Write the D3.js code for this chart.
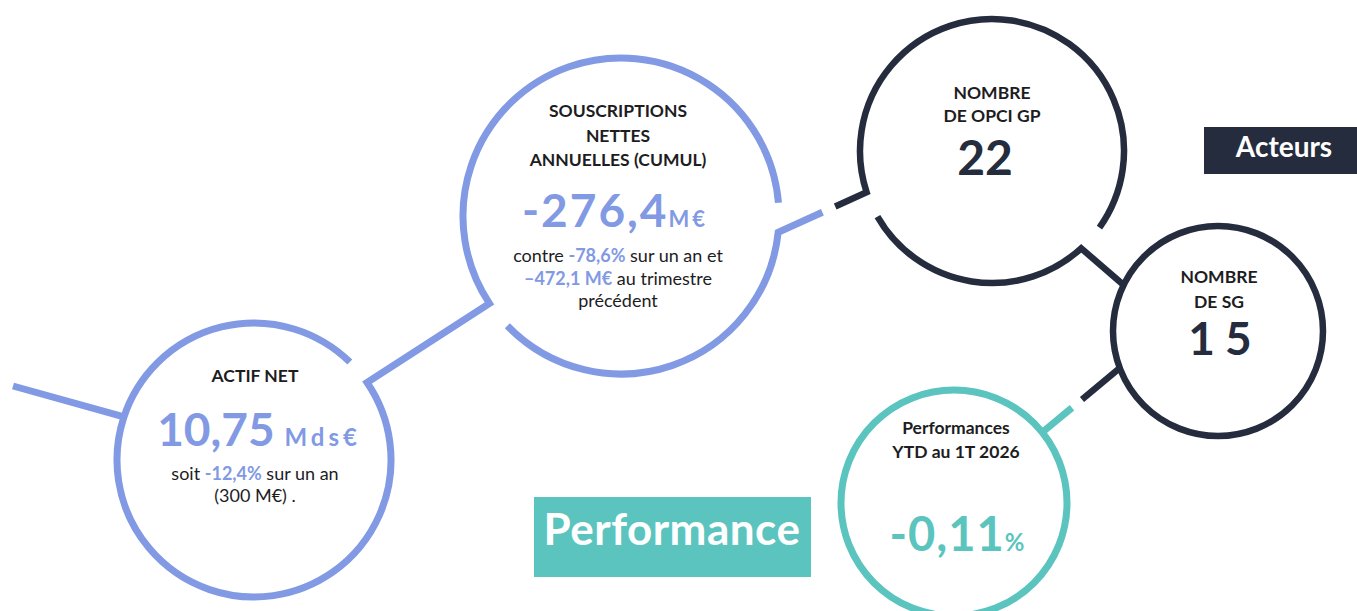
<!DOCTYPE html>
<html lang="fr">
<head>
<meta charset="UTF-8">
<title>OPCI GP</title>
<script src="https://cdn.jsdelivr.net/npm/d3@7"></script>
<style>
    body{margin:0;background:#fff;}
    svg{display:block;font-family:Lato,"Open Sans",sans-serif;}
</style>
</head>
<body>
<svg width="1357" height="611"></svg>
<script>
    // données des indicateurs
    var titres = [
        ["ACTIF NET"],
        ["SOUSCRIPTIONS", "NETTES", "ANNUELLES (CUMUL)"],
        ["NOMBRE", "DE OPCI GP"],
        ["NOMBRE", "DE SG"],
        ["Performances", "YTD au 1T 2026"]
    ];
    var valeurs = ["10,75", "-276,4", "22", "15", "-0,11"];
    var unites = [" Mds€", "M€", "", "", "%"];
    // commentaires : [texte, en évidence ?]
    var commentaires = [
        [[["soit ", 0], ["-12,4%", 1], [" sur un an", 0]], [["(300 M€) .", 0]]],
        [[["contre ", 0], ["-78,6%", 1], [" sur un an et", 0]],
         [["–472,1 M€", 1], [" au trimestre", 0]],
         [["précédent", 0]]],
        [], [], []
    ];
    var themes = ["bleu", "bleu", "sombre", "sombre", "vert"];
    var rubriques = ["Performance", "Acteurs"];

    var couleurs = {bleu: "#8299e4", sombre: "#252c3d", vert: "#5bc4bf"};
    var texteFonce = "#1d1d1f";

    // mise en page
    var cercles = [
        {cx: 254, cy: 460, r: 137, sw: 7},
        {cx: 621, cy: 216, r: 158, sw: 7},
        {cx: 992, cy: 151, r: 132, sw: 6.5},
        {cx: 1218, cy: 331, r: 105, sw: 6.5},
        {cx: 954, cy: 503, r: 113, sw: 7}
    ];
    var blocs = [
        {x: 255, xv: 259, titre: 382, lh: 24, val: 446, fv: 46, fu: 24, lsv: 0, lsu: 4, com: 480, lc: 22, ft: 17.5},
        {x: 618, xv: 615, titre: 117, lh: 24.5, val: 227, fv: 46, fu: 22, lsv: 2, lsu: 3, com: 262, lc: 22.5, ft: 17.5},
        {x: 992, xv: 985, titre: 99, lh: 23, val: 175, fv: 48, fu: 0, lsv: 0, lsu: 0, com: 0, lc: 0, ft: 17.5},
        {x: 1219, xv: 1225, titre: 283, lh: 25, val: 355, fv: 46, fu: 0, lsv: 10, lsu: 0, com: 0, lc: 0, ft: 17.5},
        {x: 956, xv: 957, titre: 434, lh: 23.5, val: 551, fv: 47, fu: 24, lsv: 1, lsu: 0, com: 0, lc: 0, ft: 17.5}
    ];

    var svg = d3.select("svg");
    var rad = function(d){ return d * Math.PI / 180; };
    function pt(i, deg){
        var c = cercles[i];
        return [c.cx + c.r * Math.cos(rad(deg)), c.cy + c.r * Math.sin(rad(deg))];
    }
    function entre(a, b, t){ return [a[0] + (b[0]-a[0])*t, a[1] + (b[1]-a[1])*t]; }

    var traits = [];
    var p;

    // ligne de gauche vers l'actif net
    p = d3.path();
    p.moveTo(13, 386);
    var q = pt(0, 198.3); p.lineTo(q[0], q[1]);
    traits.push({d: p.toString(), c: "bleu", sw: 7});

    // cercle 1 + lien vers cercle 2
    p = d3.path();
    p.arc(cercles[0].cx, cercles[0].cy, cercles[0].r, rad(314.4), rad(-34.4), true);
    q = pt(1, 146.4); p.lineTo(q[0], q[1]);
    p.arc(cercles[1].cx, cercles[1].cy, cercles[1].r, rad(146.4), rad(355.2));
    traits.push({d: p.toString(), c: "bleu", sw: 7});

    // lien 2 -> 3 (coupé en deux)
    var a23 = pt(1, 5.9), b23 = pt(2, 161.8);
    p = d3.path();
    q = entre(a23, b23, 0.50); p.moveTo(q[0], q[1]);
    p.lineTo(a23[0], a23[1]);
    p.arc(cercles[1].cx, cercles[1].cy, cercles[1].r, rad(5.9), rad(136));
    traits.push({d: p.toString(), c: "bleu", sw: 7});

    p = d3.path();
    q = entre(a23, b23, 0.645); p.moveTo(q[0], q[1]);
    p.lineTo(b23[0], b23[1]);
    p.arc(cercles[2].cx, cercles[2].cy, cercles[2].r, rad(161.8), rad(395.5));
    traits.push({d: p.toString(), c: "sombre", sw: 6.5});

    // lien 3 -> 4
    p = d3.path();
    q = pt(3, 206); p.moveTo(q[0], q[1]);
    q = pt(2, 47.5); p.lineTo(q[0], q[1]);
    p.arc(cercles[2].cx, cercles[2].cy, cercles[2].r, rad(47.5), rad(150.2));
    traits.push({d: p.toString(), c: "sombre", sw: 6.5});

    // cercles pleins 4 et 5
    [3, 4].forEach(function(i){
        p = d3.path();
        p.arc(cercles[i].cx, cercles[i].cy, cercles[i].r, 0, 2*Math.PI);
        traits.push({d: p.toString(), c: themes[i], sw: cercles[i].sw});
    });

    // lien 4 -> 5
    var a45 = pt(3, 159.3), b45 = pt(4, -38.7);
    p = d3.path();
    p.moveTo(a45[0], a45[1]);
    q = entre(a45, b45, 0.487); p.lineTo(q[0], q[1]);
    traits.push({d: p.toString(), c: "sombre", sw: 6.5});
    p = d3.path();
    q = entre(a45, b45, 0.616); p.moveTo(q[0], q[1]);
    p.lineTo(b45[0], b45[1]);
    traits.push({d: p.toString(), c: "vert", sw: 7});

    svg.append("g").selectAll("path")
        .data(traits)
        .enter()
        .append("path")
        .attr("d", function(d){ return d.d; })
        .attr("fill", "none")
        .attr("stroke", function(d){ return couleurs[d.c]; })
        .attr("stroke-width", function(d){ return d.sw; })
        .attr("stroke-linejoin", "miter");

    // textes des cercles
    var g = svg.append("g").selectAll("g")
        .data(valeurs)
        .enter()
        .append("g");

    g.each(function(v, i){
        var b = blocs[i], sel = d3.select(this), col = couleurs[themes[i]];
        titres[i].forEach(function(t, k){
            sel.append("text")
                .attr("x", b.x)
                .attr("y", b.titre + k * b.lh)
                .attr("text-anchor", "middle")
                .attr("font-size", b.ft)
                .attr("font-weight", 700)
                .attr("fill", texteFonce)
                .text(t);
        });
        var tv = sel.append("text")
            .attr("x", b.xv)
            .attr("y", b.val)
            .attr("text-anchor", "middle")
            .attr("font-weight", 700)
            .attr("fill", col);
        tv.append("tspan")
            .attr("font-size", b.fv)
            .attr("letter-spacing", b.lsv)
            .text(v);
        if (unites[i]) {
            tv.append("tspan")
                .attr("font-size", b.fu)
                .attr("letter-spacing", b.lsu)
                .style("white-space", "pre")
                .text(unites[i]);
        }
        commentaires[i].forEach(function(ligne, k){
            var tc = sel.append("text")
                .attr("x", b.x)
                .attr("y", b.com + k * b.lc)
                .attr("text-anchor", "middle")
                .attr("font-size", 18)
                .style("white-space", "pre")
                .attr("fill", texteFonce);
            ligne.forEach(function(s){
                tc.append("tspan")
                    .attr("font-weight", s[1] ? 700 : 400)
                    .attr("fill", s[1] ? col : texteFonce)
                    .text(s[0]);
            });
        });
    });

    // étiquettes de rubrique
    var boites = [
        {x: 534, y: 497, w: 277, h: 80, tx: 672, fs: 44, ls: 0.5, ty: 545, c: "vert"},
        {x: 1204, y: 127, w: 153, h: 47, tx: 1284, fs: 28, ls: 0, ty: 157, c: "sombre"}
    ];
    var lab = svg.append("g").selectAll("g")
        .data(rubriques)
        .enter()
        .append("g");
    lab.append("rect")
        .attr("x", function(d, i){ return boites[i].x; })
        .attr("y", function(d, i){ return boites[i].y; })
        .attr("width", function(d, i){ return boites[i].w; })
        .attr("height", function(d, i){ return boites[i].h; })
        .attr("fill", function(d, i){ return couleurs[boites[i].c]; });
    lab.append("text")
        .attr("x", function(d, i){ return boites[i].tx; })
        .attr("y", function(d, i){ return boites[i].ty; })
        .attr("text-anchor", "middle")
        .attr("font-size", function(d, i){ return boites[i].fs; })
        .attr("letter-spacing", function(d, i){ return boites[i].ls; })
        .attr("font-weight", 700)
        .attr("fill", "#fff")
        .text(function(d){ return d; });
</script>
</body>
</html>
